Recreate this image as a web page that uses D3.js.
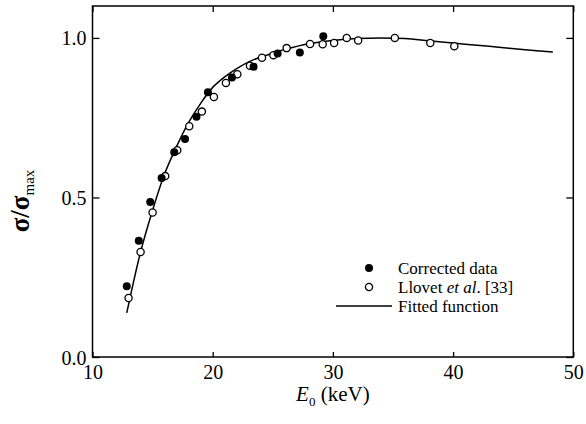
<!DOCTYPE html>
<html>
<head>
<meta charset="utf-8">
<script src="https://cdn.jsdelivr.net/npm/d3@7"></script>
<style>
  body{margin:0;background:#fff;}
</style>
</head>
<body>
<svg id="drawing_region"></svg>
<script>
// corrected data (filled circles)
const corr_E = [12.85,13.85,14.8,15.75,16.8,17.7,18.65,19.6,21.6,23.4,25.4,27.25,29.2]
const corr_S = [0.222,0.364,0.486,0.561,0.642,0.683,0.753,0.830,0.876,0.910,0.951,0.954,1.005]
// Llovet et al. (open circles)
const llovet_E = [13,14,15,16.05,17.05,18.05,19.1,20.1,21.1,22.05,23.1,24.1,25.05,26.15,28.1,29.15,30.1,31.15,32.1,35.15,38.1,40.1]
const llovet_S = [0.185,0.329,0.453,0.567,0.648,0.723,0.769,0.815,0.859,0.886,0.913,0.938,0.946,0.968,0.981,0.980,0.984,1.0,0.992,1.0,0.984,0.974]
// fitted function
const fit_E = [12.85,14,15,16,17,18,19,20,21,22,23,24,25,26,28,30,32,34,36,38,40,42,44,46,48.3]
const fit_S = [0.138,0.329,0.460,0.574,0.660,0.735,0.795,0.845,0.878,0.904,0.925,0.940,0.952,0.964,0.982,0.992,0.998,1.0,0.998,0.991,0.984,0.977,0.970,0.963,0.956]
const x_ticks = [10,20,30,40,50]
const y_ticks = [0,0.5,1.0]
const legend_labels = ["Corrected data","Llovet et al. [33]","Fitted function"]

const serif = "'Liberation Serif', 'Times New Roman', serif"
const config = {
    width:586,
    height:424,
    margin:{top:6,right:12.7,bottom:67,left:92.5}
}
const inner_width = config.width-config.margin.left-config.margin.right
const inner_height = config.height-config.margin.top-config.margin.bottom

const svg = d3.select("#drawing_region")
    .attr("width",config.width)
    .attr("height",config.height)
    .style("font-family",serif)

const chart = svg.append("g")
    .attr("transform",`translate(${config.margin.left},${config.margin.top})`)

const xscale = d3.scaleLinear().domain([10,50]).range([0,inner_width])
const yscale = d3.scaleLinear().domain([0,1.1]).range([inner_height,0])

// axes, ticks pointing inward
const style_axis = g=>{
    g.attr("font-family",null).attr("font-size",20)
    g.select(".domain").remove()
    g.selectAll(".tick line").attr("stroke","#000").attr("stroke-width",1.3)
    g.selectAll(".tick text").attr("fill","#000").style("font-family",serif)
}
chart.append("g")
    .attr("transform",`translate(0,${inner_height})`)
    .call(d3.axisBottom(xscale).tickValues(x_ticks).tickFormat(d3.format("d")).tickSizeInner(-5).tickSizeOuter(0).tickPadding(8))
    .call(style_axis)
chart.append("g")
    .call(d3.axisTop(xscale).tickValues(x_ticks).tickFormat("").tickSizeInner(-6).tickSizeOuter(0))
    .call(style_axis)
chart.append("g")
    .call(d3.axisLeft(yscale).tickValues(y_ticks).tickFormat(d3.format(".1f")).tickSizeInner(-7).tickSizeOuter(0).tickPadding(6))
    .call(style_axis)
    .selectAll(".tick text").attr("dy","0.35em")
chart.append("g")
    .attr("transform",`translate(${inner_width},0)`)
    .call(d3.axisRight(yscale).tickValues(y_ticks).tickFormat("").tickSizeInner(-7).tickSizeOuter(0))
    .call(style_axis)

// frame
chart.append("rect")
    .attr("width",inner_width)
    .attr("height",inner_height)
    .attr("fill","none")
    .attr("stroke","#000")
    .attr("stroke-width",1.5)

// fitted line
const line = d3.line()
    .x(d=>xscale(d[0]))
    .y(d=>yscale(d[1]))
    .curve(d3.curveCatmullRom)
chart.append("path")
    .datum(d3.zip(fit_E,fit_S))
    .attr("d",line)
    .attr("fill","none")
    .attr("stroke","#000")
    .attr("stroke-width",1.5)

// points
chart.selectAll(".open")
    .data(d3.zip(llovet_E,llovet_S))
    .enter()
    .append("circle")
    .attr("cx",d=>xscale(d[0]))
    .attr("cy",d=>yscale(d[1]))
    .attr("r",3.6)
    .attr("fill","#fff")
    .attr("stroke","#000")
    .attr("stroke-width",1.3)
chart.selectAll(".filled")
    .data(d3.zip(corr_E,corr_S))
    .enter()
    .append("circle")
    .attr("cx",d=>xscale(d[0]))
    .attr("cy",d=>yscale(d[1]))
    .attr("r",4)
    .attr("fill","#000")

// legend
const legend = svg.append("g").attr("transform","translate(369,268)").style("font-size","17px")
const row = 19
legend.append("circle").attr("cx",0).attr("cy",0).attr("r",4).attr("fill","#000")
legend.append("circle").attr("cx",0).attr("cy",row).attr("r",3.6).attr("fill","#fff").attr("stroke","#000").attr("stroke-width",1.3)
legend.append("line").attr("x1",-33).attr("x2",23).attr("y1",row*2).attr("y2",row*2).attr("stroke","#000").attr("stroke-width",1.3)
legend.append("text").attr("x",29).attr("y",0).attr("dy","0.33em").text(legend_labels[0])
const t2 = legend.append("text").attr("x",29).attr("y",row).attr("dy","0.33em")
t2.append("tspan").text("Llovet ")
t2.append("tspan").style("font-style","italic").text("et al")
t2.append("tspan").text(". [33]")
legend.append("text").attr("x",29).attr("y",row*2).attr("dy","0.33em").text(legend_labels[2])

// axis titles
const xtitle = svg.append("text")
    .attr("x",config.margin.left+inner_width*0.5)
    .attr("y",401)
    .attr("text-anchor","middle")
    .style("font-size","21px")
xtitle.append("tspan").style("font-style","italic").text("E")
xtitle.append("tspan").attr("dy",5).style("font-size","13px").text("0")
xtitle.append("tspan").attr("dy",-5).text(" (keV)")

const ytitle = svg.append("text")
    .attr("transform","translate(29,201) rotate(-90)")
    .attr("text-anchor","middle")
ytitle.append("tspan").style("font-size","27px").style("font-weight","bold").text("σ/σ")
ytitle.append("tspan").attr("dy",5).style("font-size","15px").text("max")
</script>
</body>
</html>
